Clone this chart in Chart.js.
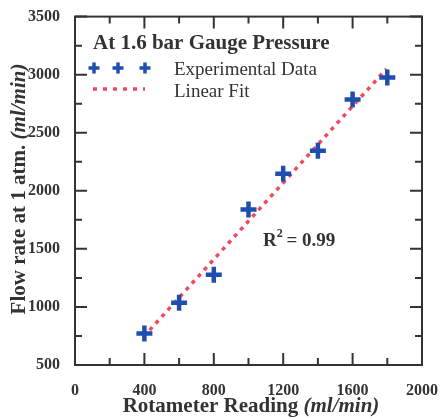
<!DOCTYPE html>
<html lang="en">
<head>
    <meta charset="UTF-8">
    <title>Rotameter calibration</title>
    <script src="https://cdn.jsdelivr.net/npm/chart.js@4.4.1/dist/chart.umd.min.js"></script>
    <style>
        body { margin: 0; background: #fff; }
    </style>
</head>
<body>
<canvas id="flowChart" width="446" height="420"></canvas>
<script>
    // rotameter reading (ml/min) vs flow rate at 1 atm (ml/min)
    var readings = [400, 600, 800, 1000, 1200, 1400, 1600, 1800];
    var flowRates = [772, 1037, 1277, 1840, 2146, 2345, 2786, 2975];
    // linear fit end points
    var fitX = [430, 1795];
    var fitY = [800, 3050];
    var xTicks = [0, 400, 800, 1200, 1600, 2000];
    var yTicks = [500, 1000, 1500, 2000, 2500, 3000, 3500];

    var serif = '"Liberation Serif", "DejaVu Serif", serif';
    var ink = '#333333';
    var blue = '#1f4fae';
    var red = '#f2495f';

    var framePlugin = {
        id: 'frame',
        afterDraw: function (chart) {
            var ctx = chart.ctx;
            var a = chart.chartArea;
            var xs = chart.scales.x, ys = chart.scales.y;
            ctx.save();
            ctx.strokeStyle = ink;
            ctx.lineWidth = 2;
            ctx.strokeRect(a.left, a.top, a.right - a.left, a.bottom - a.top);
            ctx.beginPath();
            for (var v = 0; v <= 2000; v += 200) {
                var px = xs.getPixelForValue(v);
                var len = (v % 400 === 0) ? 12 : 7;
                ctx.moveTo(px, a.bottom); ctx.lineTo(px, a.bottom - len);
                ctx.moveTo(px, a.top); ctx.lineTo(px, a.top + len);
            }
            for (var w = 500; w <= 3500; w += 250) {
                var py = ys.getPixelForValue(w);
                var l2 = (w % 500 === 0) ? 12 : 7;
                ctx.moveTo(a.left, py); ctx.lineTo(a.left + l2, py);
                ctx.moveTo(a.right, py); ctx.lineTo(a.right - l2, py);
            }
            ctx.stroke();

            // axis titles with italic units
            ctx.fillStyle = ink;
            ctx.textBaseline = 'alphabetic';
            var boldF = 'bold 21px ' + serif;
            var italF = 'bold italic 21px ' + serif;
            ctx.font = boldF;
            var t1 = 'Rotameter Reading ';
            var w1 = ctx.measureText(t1).width;
            ctx.font = italF;
            var u1 = '(ml/min)';
            var w2 = ctx.measureText(u1).width;
            var sx = 251 - (w1 + w2) / 2;
            ctx.font = boldF; ctx.fillText(t1, sx, 412);
            ctx.font = italF; ctx.fillText(u1, sx + w1, 412);

            ctx.save();
            ctx.translate(25, 189);
            ctx.rotate(-Math.PI / 2);
            var yf = 'bold 21px ' + serif, yi = 'bold italic 21px ' + serif;
            ctx.font = yf;
            var t2 = 'Flow rate at 1 atm. ';
            var w3 = ctx.measureText(t2).width;
            ctx.font = yi;
            var u2 = '(ml/min)';
            var w4 = ctx.measureText(u2).width;
            var s2 = -(w3 + w4) / 2;
            ctx.font = yf; ctx.fillText(t2, s2, 0);
            ctx.font = yi; ctx.fillText(u2, s2 + w3, 0);
            ctx.restore();

            // legend box
            ctx.font = 'bold 21px ' + serif;
            ctx.fillText('At 1.6 bar Gauge Pressure', 93, 49);
            ctx.font = '19px ' + serif;
            ctx.fillText('Experimental Data', 174, 75);
            ctx.fillText('Linear Fit', 174, 97);
            ctx.strokeStyle = blue;
            ctx.lineWidth = 3.5;
            [94, 118, 145].forEach(function (cx) {
                ctx.beginPath();
                ctx.moveTo(cx - 5.5, 68); ctx.lineTo(cx + 5.5, 68);
                ctx.moveTo(cx, 62.5); ctx.lineTo(cx, 73.5);
                ctx.stroke();
            });
            ctx.strokeStyle = red;
            ctx.lineWidth = 3.5;
            ctx.setLineDash([4, 6]);
            ctx.beginPath();
            ctx.moveTo(93, 89); ctx.lineTo(145, 89);
            ctx.stroke();
            ctx.setLineDash([]);

            // R squared note
            ctx.fillStyle = ink;
            ctx.font = 'bold 19px ' + serif;
            ctx.fillText('R', 263, 246);
            var rw = ctx.measureText('R').width;
            ctx.font = 'bold 12px ' + serif;
            ctx.fillText('2', 263 + rw, 237);
            ctx.font = 'bold 19px ' + serif;
            ctx.fillText(' = 0.99', 263 + rw + 5, 246);
            ctx.restore();
        }
    };

    var ctx = document.getElementById('flowChart');
    var flowChart = new Chart(ctx, {
        type: 'scatter',
        data: {
            datasets: [{
                label: 'Linear Fit',
                data: fitX.map(function (x, i) { return { x: x, y: fitY[i] }; }),
                showLine: true,
                borderColor: red,
                borderWidth: 3.5,
                borderDash: [4, 5],
                pointRadius: 0,
                fill: false,
                order: 2
            }, {
                label: 'Experimental Data',
                data: readings.map(function (x, i) { return { x: x, y: flowRates[i] }; }),
                pointStyle: 'cross',
                pointRadius: 8,
                pointBorderWidth: 4.5,
                borderColor: blue,
                backgroundColor: blue,
                order: 1
            }]
        },
        options: {
            responsive: false,
            animation: false,
            layout: { padding: { top: 15, right: 19, left: 0, bottom: 0 } },
            plugins: {
                legend: { display: false },
                tooltip: { enabled: false }
            },
            scales: {
                x: {
                    type: 'linear',
                    min: 0, max: 2000,
                    afterFit: function (s) { s.height = 55; },
                    afterBuildTicks: function (s) { s.ticks = xTicks.map(function (v) { return { value: v }; }); },
                    grid: { display: false },
                    border: { display: false },
                    ticks: {
                        padding: 8,
                        color: ink,
                        font: { family: serif, size: 16, weight: 'bold' },
                        maxRotation: 0,
                        callback: function (v) { return String(v); }
                    }
                },
                y: {
                    type: 'linear',
                    min: 500, max: 3500,
                    afterFit: function (s) { s.width = 75; },
                    afterBuildTicks: function (s) { s.ticks = yTicks.map(function (v) { return { value: v }; }); },
                    grid: { display: false },
                    border: { display: false },
                    ticks: {
                        padding: 7,
                        color: ink,
                        font: { family: serif, size: 16, weight: 'bold' },
                        callback: function (v) { return String(v); }
                    }
                }
            }
        },
        plugins: [framePlugin]
    });
</script>
</body>
</html>
